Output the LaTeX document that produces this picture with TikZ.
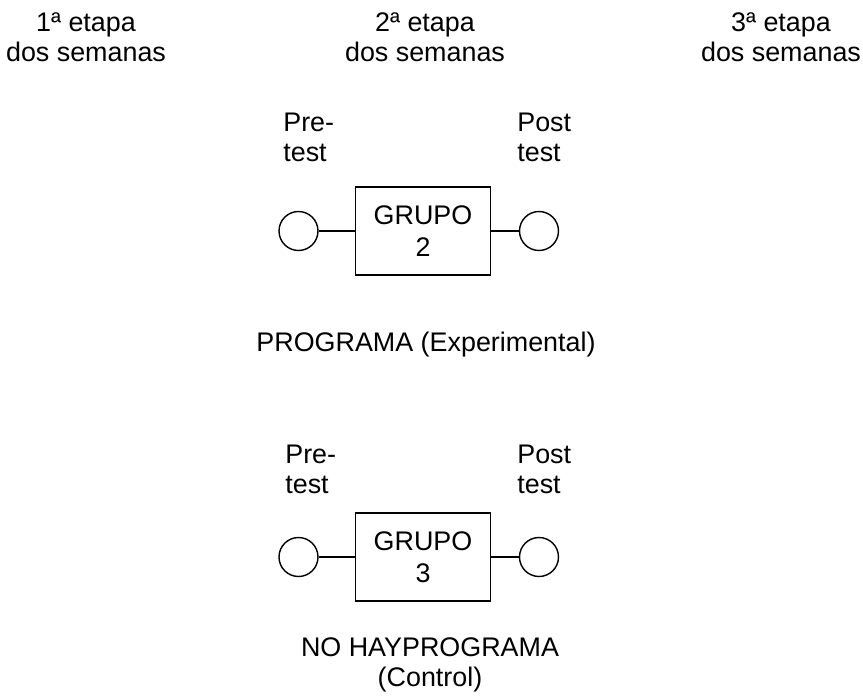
\documentclass[tikz,border=0pt]{standalone}
\usepackage{fontspec}
\setmainfont{Liberation Sans}

\begin{document}
\begin{tikzpicture}[
    x=0.02cm, y=-0.02cm,
    every node/.style={font=\fontsize{15.3}{17}\selectfont, align=center, inner sep=0pt},
    cr/.style={circle, draw, line width=0.8pt, minimum size=0.78cm},
    gb/.style={rectangle, draw, line width=0.8pt, minimum width=2.7cm,
               minimum height=1.76cm, font=\fontsize{15.3}{18.5}\selectfont},
    lbl/.style={align=left, anchor=west},
    ln/.style={line width=0.8pt},
  ]
  \useasboundingbox (0,0) rectangle (863,698);
  % etapas
  \node (et1) at (86,37) {1ª etapa\\dos semanas};
  \node (et2) at (425,37) {2ª etapa\\dos semanas};
  \node (et3) at (781,37) {3ª etapa\\dos semanas};
  % grupo 2
  \node[lbl] (pre2) at (283,137) {Pre-\\test};
  \node[lbl] (post2) at (517,137) {Post\\test};
  \node[cr] (c2a) at (298.5,231) {};
  \node[gb] (grp2) at (423,231) {GRUPO\\2};
  \node[cr] (c2b) at (539,231) {};
  \node (prog2) at (426,345) {PROGRAMA (Experimental)};
  \draw[ln] (c2a) -- (grp2);
  \draw[ln] (grp2) -- (c2b);
  % grupo 3
  \node[lbl] (pre3) at (285,469) {Pre-\\test};
  \node[lbl] (post3) at (517,469) {Post\\test};
  \node[cr] (c3a) at (298.5,557) {};
  \node[gb] (grp3) at (423,557) {GRUPO\\3};
  \node[cr] (c3b) at (539,557) {};
  \node (prog3) at (430,665) {NO HAYPROGRAMA\\(Control)};
  \draw[ln] (c3a) -- (grp3);
  \draw[ln] (grp3) -- (c3b);
\end{tikzpicture}
\end{document}
